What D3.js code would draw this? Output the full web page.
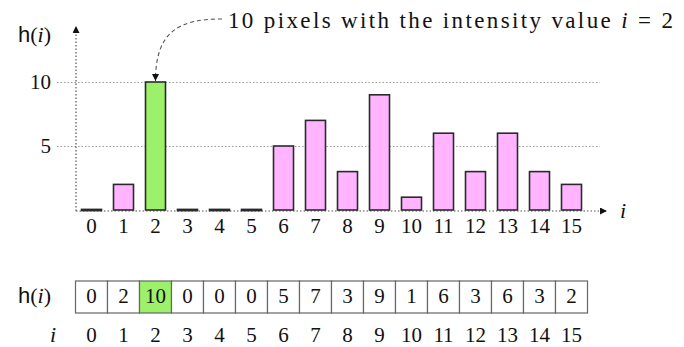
<!DOCTYPE html>
<html>
<head>
<meta charset="utf-8">
<script src="https://cdn.jsdelivr.net/npm/d3@7"></script>
</head>
<body style="margin:0">
<svg id="chart" width="684" height="347" style="font-family: 'Liberation Serif', serif"></svg>
<script>
// Histogram of a 16-level image
const intensities = d3.range(16);
const counts = [0, 2, 10, 0, 0, 0, 5, 7, 3, 9, 1, 6, 3, 6, 3, 2];
const yTicks = [5, 10];
const highlight = 2;

const pink = "#ffb4ff";
const green = "#9cf06a";

const svg = d3.select("#chart");

const x = d3.scaleBand()
  .domain(intensities)
  .range([75.5, 587.5])
  .paddingInner(0.375)
  .paddingOuter(0.1875);

const y = d3.scaleLinear().domain([0, 10]).range([210, 82]);

const axisX = 76;
const baseY = 211;

// arrowheads
const defs = svg.append("defs");
defs.append("marker")
  .attr("id", "arrow")
  .attr("viewBox", "0 0 10 10")
  .attr("refX", 10).attr("refY", 5)
  .attr("markerWidth", 9).attr("markerHeight", 7)
  .attr("markerUnits", "userSpaceOnUse")
  .attr("orient", "auto")
  .append("path").attr("d", "M0,0L10,5L0,10Z").attr("fill", "#111");

// horizontal grid lines
yTicks.forEach(d => {
  svg.append("line")
    .attr("x1", 57).attr("x2", 600)
    .attr("y1", Math.round(y(d)) + 0.5).attr("y2", Math.round(y(d)) + 0.5)
    .attr("stroke", "#999").attr("stroke-width", 1)
    .attr("stroke-dasharray", "1.5,2");
});

// text helper: plain serif label
const label = (tx, ty, str, size, anchor, italic) =>
  svg.append("text")
    .attr("x", tx).attr("y", ty)
    .attr("text-anchor", anchor || "start")
    .style("font-family", "'Liberation Serif', serif")
    .style("font-size", size + "px")
    .style("font-style", italic ? "italic" : "normal")
    .attr("fill", "#111")
    .text(str);

// y tick labels
yTicks.forEach(d => label(51, y(d) + 7, d, 21, "end"));

// axes
svg.append("line")
  .attr("x1", axisX).attr("x2", axisX).attr("y1", baseY).attr("y2", 26)
  .attr("stroke", "#333").attr("stroke-dasharray", "1.5,2")
  .attr("marker-end", "url(#arrow)");
svg.append("line")
  .attr("x1", axisX).attr("x2", 607).attr("y1", baseY).attr("y2", baseY)
  .attr("stroke", "#555").attr("stroke-dasharray", "1.5,2")
  .attr("marker-end", "url(#arrow)");

// bars
svg.append("g").selectAll("rect").data(intensities).join("rect")
  .attr("x", i => x(i))
  .attr("width", x.bandwidth())
  .attr("y", i => counts[i] > 0 ? y(counts[i]) : y(0) - 0.6)
  .attr("height", i => counts[i] > 0 ? y(0) - y(counts[i]) : 1.2)
  .attr("fill", i => i === highlight ? green : pink)
  .attr("stroke", "#2a2a2a")
  .attr("stroke-width", 1.6);

// x tick labels
intensities.forEach(i => label(x(i) + x.bandwidth() / 2, 233, i, 21, "middle"));

// h(i) label: sans "h", serif parentheses, italic i
const hLabel = (yy) => {
  const t = svg.append("text").attr("x", 18).attr("y", yy)
    .style("font-size", "22px").attr("fill", "#111");
  t.append("tspan").style("font-family", "'Liberation Sans', sans-serif").text("h");
  t.append("tspan").style("font-family", "'Liberation Serif', serif").text("(");
  t.append("tspan").style("font-family", "'Liberation Serif', serif").style("font-style", "italic").text("i");
  t.append("tspan").style("font-family", "'Liberation Serif', serif").text(")");
};
hLabel(42);

label(620, 218, "i", 22, "start", true);

// annotation
const cx = x(highlight) + x.bandwidth() / 2;
svg.append("path")
  .attr("d", `M222,19 C178,19 ${cx},32 ${cx},${y(counts[highlight]) - 1}`)
  .attr("fill", "none")
  .attr("stroke", "#555")
  .attr("stroke-width", 1.1)
  .attr("stroke-dasharray", "4,3")
  .attr("marker-end", "url(#arrow)");

const note = label(228, 28, "", 23);
note.append("tspan").text("10 pixels with the intensity value ");
note.append("tspan").style("font-style", "italic").text("i");
note.append("tspan").text(" = " + highlight);
note.attr("textLength", 445).attr("lengthAdjust", "spacing");

// table of counts
const cellTop = 281, cellH = 32;
const cellX = i => x(i) + x.bandwidth() / 2 - x.step() / 2;
svg.append("g").selectAll("rect").data(intensities).join("rect")
  .attr("x", i => cellX(i))
  .attr("y", cellTop)
  .attr("width", x.step())
  .attr("height", cellH)
  .attr("fill", i => i === highlight ? green : "#fff")
  .attr("stroke", "#666")
  .attr("stroke-width", 1.2);

intensities.forEach(i => label(x(i) + x.bandwidth() / 2, 303, counts[i], 21, "middle"));
hLabel(303);

intensities.forEach(i => label(x(i) + x.bandwidth() / 2, 342, i, 21, "middle"));
label(50, 342, "i", 22, "start", true);
</script>
</body>
</html>
